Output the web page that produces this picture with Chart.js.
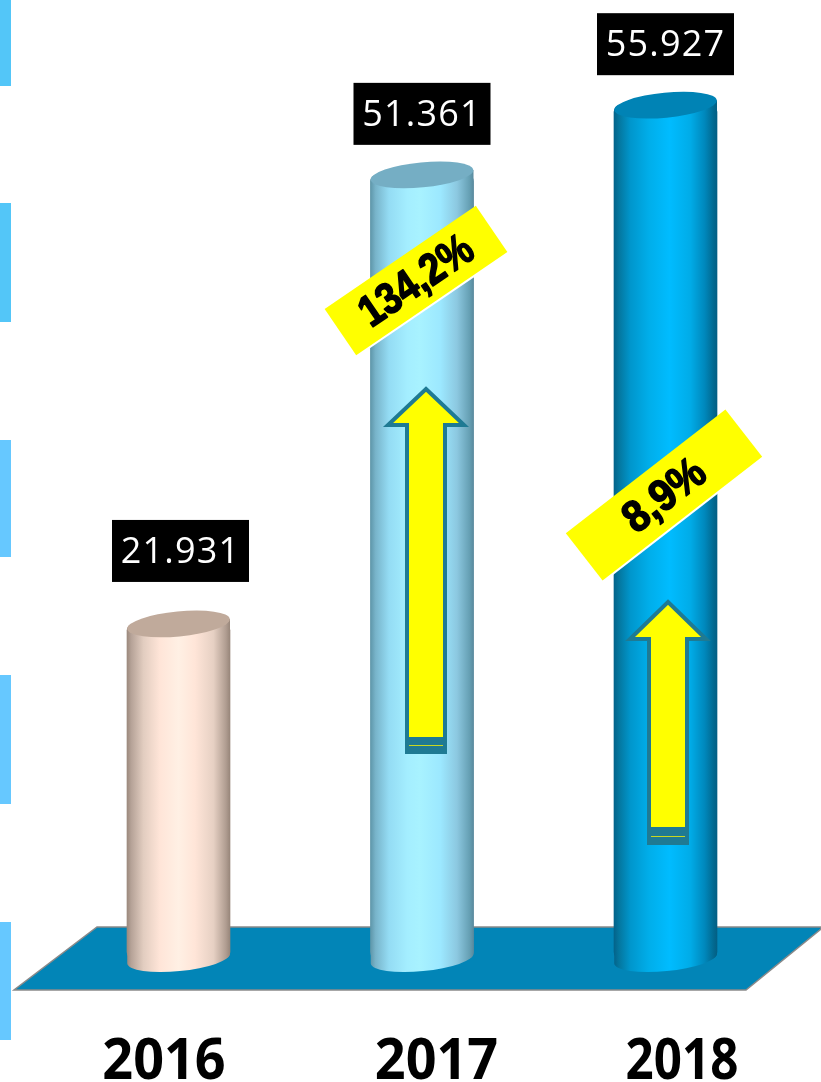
<!DOCTYPE html>
<html>
<head>
<meta charset="utf-8">
<title>2016-2018</title>
<script src="https://cdn.jsdelivr.net/npm/chart.js@4/dist/chart.umd.js"></script>
<style>
  html, body { margin: 0; padding: 0; background: #fff; overflow: hidden; }
  canvas { display: block; }
</style>
</head>
<body>
<canvas id="chart" width="821" height="1082"></canvas>
<script>
const years = ["2016", "2017", "2018"];
const values = [21931, 51361, 55927];
const growthLabels = ["134,2%", "8,9%"];

const barWidth = 103;
const capTilt = -5.5 * Math.PI / 180;
const capRy = 12.5;

// one gradient across each cylinder, plus the colour of its top
const bodyStops = [
  [[0, "#9c8a7e"], [0.04, "#b5a297"], [0.16, "#e2cdc0"], [0.32, "#ffe5d8"], [0.5, "#fff0e4"], [0.66, "#ffe5d8"], [0.84, "#e6d0c3"], [0.96, "#b09d91"], [1, "#98867a"]],
  [[0, "#5f97aa"], [0.05, "#78b4ca"], [0.18, "#94dcf4"], [0.36, "#a4eeff"], [0.48, "#a8f2ff"], [0.68, "#9ce8ff"], [0.84, "#8cc8e0"], [0.96, "#66a0b4"], [1, "#5a8a9e"]],
  [[0, "#03638a"], [0.05, "#04779f"], [0.16, "#0096cc"], [0.34, "#00aeea"], [0.54, "#00bcff"], [0.74, "#00ace8"], [0.88, "#0088bc"], [0.97, "#02688f"], [1, "#035f84"]]
];
const capColors = ["#c0aa9b", "#75aec4", "#0083b5"];

function bodyGradient(ctx, i, x){
  const g = ctx.createLinearGradient(x - barWidth / 2, 0, x + barWidth / 2, 0);
  bodyStops[i].forEach(s => g.addColorStop(s[0], s[1]));
  return g;
}

function drawArrow(ctx, tipX, tipY, headY, halfHead, halfShaft, yellowEnd, lineY, bottom){
  const teal = "#1f7a93";
  ctx.beginPath();
  ctx.moveTo(tipX, tipY + 3);
  ctx.lineTo(tipX + halfHead - 4, headY - 2);
  ctx.lineTo(tipX + halfShaft - 2, headY - 2);
  ctx.lineTo(tipX + halfShaft - 2, yellowEnd);
  ctx.lineTo(tipX - halfShaft + 2, yellowEnd);
  ctx.lineTo(tipX - halfShaft + 2, headY - 2);
  ctx.lineTo(tipX - halfHead + 4, headY - 2);
  ctx.closePath();
  ctx.fillStyle = "#ffff00";
  ctx.strokeStyle = teal;
  ctx.lineWidth = 4;
  ctx.lineJoin = "miter";
  ctx.fill();
  ctx.stroke();
  ctx.fillStyle = teal;
  ctx.fillRect(tipX - halfShaft, yellowEnd, halfShaft * 2, bottom - yellowEnd);
  ctx.fillStyle = "#c8d820";
  ctx.fillRect(tipX - halfShaft + 4, lineY, halfShaft * 2 - 8, 1);
}

function drawBanner(ctx, cx, cy, len, thick, angle, text, font, squeeze){
  ctx.save();
  ctx.translate(cx, cy);
  ctx.rotate(angle);
  ctx.fillStyle = "#ffffff";
  ctx.fillRect(-len / 2 + 1, -thick / 2 + 2, len, thick);
  ctx.fillStyle = "#ffff00";
  ctx.fillRect(-len / 2, -thick / 2, len, thick);
  ctx.scale(squeeze, 1);
  ctx.font = font;
  ctx.textAlign = "center";
  ctx.textBaseline = "middle";
  ctx.fillStyle = "#000";
  ctx.strokeStyle = "#000";
  ctx.lineWidth = 1.6;
  ctx.lineJoin = "round";
  ctx.strokeText(text, 0, 2);
  ctx.fillText(text, 0, 2);
  ctx.restore();
}

const stagePlugin = {
  id: "stage",
  beforeDatasetsDraw(chart){
    const ctx = chart.ctx;
    // side strips left over at the page edge
    [[0, 86], [203, 322], [440, 557], [675, 804], [922, 1040]].forEach((s, i) => {
      ctx.fillStyle = i < 2 ? "#53c6f8" : "#66c8ff";
      ctx.fillRect(0, s[0], 11, s[1] - s[0]);
    });
    // floor
    ctx.beginPath();
    ctx.moveTo(97, 927);
    ctx.lineTo(821, 927);
    ctx.lineTo(821, 929);
    ctx.lineTo(746, 990);
    ctx.lineTo(14, 990);
    ctx.closePath();
    ctx.fillStyle = "#0285b7";
    ctx.fill();
    ctx.strokeStyle = "#8a8a8a";
    ctx.lineWidth = 1.5;
    ctx.stroke();
  },
  afterDatasetsDraw(chart){
    const ctx = chart.ctx;
    const rx = barWidth / 2;
    const dy = rx * Math.tan(-capTilt);
    chart.getDatasetMeta(0).data.forEach((bar, i) => {
      const x = bar.x, top = bar.y, base = bar.base;
      // body joined to the tilted ends
      ctx.beginPath();
      ctx.moveTo(x - rx, top + dy);
      ctx.lineTo(x + rx, top - dy);
      ctx.lineTo(x + rx, base - dy);
      ctx.ellipse(x, base, rx, capRy, capTilt, 0, Math.PI);
      ctx.closePath();
      ctx.fillStyle = bodyGradient(ctx, i, x);
      ctx.fill();
      // top
      ctx.beginPath();
      ctx.ellipse(x, top, rx, capRy, capTilt, 0, Math.PI * 2);
      ctx.fillStyle = capColors[i];
      ctx.fill();
    });
  },
  afterDraw(chart){
    const ctx = chart.ctx;
    const bars = chart.getDatasetMeta(0).data;
    const boxShift = [[2, -73], [0, -61], [0, -61]];
    const yearShift = [-14.5, 14.5, 16.5];
    const yearScale = [0.93, 0.93, 0.85];

    drawArrow(ctx, 426, 386, 427, 42, 21, 739, 745, 754);
    drawArrow(ctx, 668, 599, 641, 42, 21, 829, 836, 845);
    drawBanner(ctx, 416, 280.5, 183, 56, -34.3 * Math.PI / 180, growthLabels[0], "bold 44px 'Liberation Sans'", 0.86);
    drawBanner(ctx, 664, 495, 202, 60, -37.8 * Math.PI / 180, growthLabels[1], "bold 44px 'Liberation Sans'", 0.92);

    bars.forEach((bar, i) => {
      // value in its black box
      const cx = bar.x + boxShift[i][0], cy = bar.y + boxShift[i][1];
      ctx.fillStyle = "#000";
      ctx.fillRect(cx - 68.5, cy - 31, 137, 62);
      ctx.font = "36px 'Open Sans'";
      ctx.letterSpacing = "1.2px";
      ctx.textAlign = "center";
      ctx.textBaseline = "middle";
      ctx.fillStyle = "#fff";
      ctx.fillText(values[i].toLocaleString("de-DE"), cx, cy + 2);
      ctx.letterSpacing = "0px";

      // year under the floor
      ctx.save();
      ctx.translate(bar.x + yearShift[i], 1060);
      ctx.scale(yearScale[i], 1);
      ctx.font = "bold 58px 'Open Sans'";
      ctx.fillStyle = "#000";
      ctx.fillText(years[i], 0, 2);
      ctx.restore();
    });
  }
};

new Chart(document.getElementById("chart"), {
  type: "bar",
  data: {
    labels: years,
    datasets: [{
      data: values,
      barThickness: barWidth,
      borderSkipped: false,
      borderRadius: 7,
      backgroundColor: (c) => {
        const sx = c.chart.scales.x;
        if(!sx || !c.chart.chartArea) return "#ccc";
        return bodyGradient(c.chart.ctx, c.dataIndex, sx.getPixelForValue(c.dataIndex));
      }
    }]
  },
  options: {
    responsive: false,
    animation: false,
    layout: { padding: { left: 56.75, right: 33.75, top: 0, bottom: 123.4 } },
    plugins: { legend: { display: false }, tooltip: { enabled: false } },
    scales: {
      x: { display: false },
      y: { display: false, min: 0, max: 62820 }
    }
  },
  plugins: [stagePlugin]
});
</script>
</body>
</html>
